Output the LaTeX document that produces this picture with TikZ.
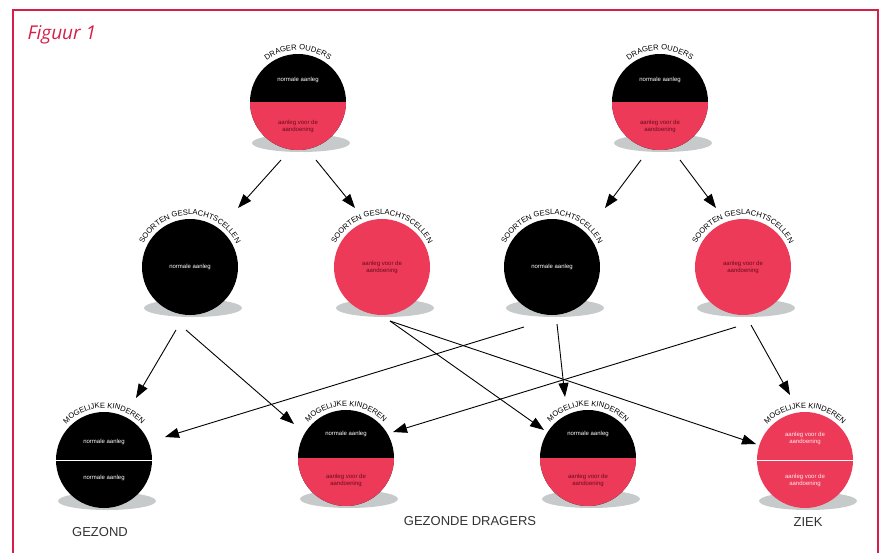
\documentclass[tikz,border=0pt]{standalone}
\usepackage{fontspec}
\setsansfont{Liberation Sans}
\newfontfamily\figfont{Open Sans}
\usetikzlibrary{positioning, arrows.meta, calc, decorations.text, backgrounds}

\definecolor{aanleg}{RGB}{236,58,88}
\definecolor{kader}{RGB}{214,30,72}
\definecolor{schaduw}{RGB}{198,202,202}
\definecolor{donkerrood}{RGB}{105,12,30}
\definecolor{tekstgrijs}{RGB}{50,50,50}

\newcommand{\boogfont}{\fontsize{7.6}{7.6}\selectfont\sffamily}
% curved caption above a circle: node, text, start angle, end angle
\newcommand{\boog}[4]{%
  \path[decorate, decoration={text along path, text align=center,
      text={|\boogfont|#2}}]
    ($(#1)+(#3:52pt)$) arc[start angle=#3, end angle=#4, radius=52pt];}

\begin{document}
\begin{tikzpicture}[
    x=1pt, y=1pt,
    arr/.style={-{Triangle[length=14pt,width=10pt]}, line width=0.9pt},
    cel/.style={circle, minimum size=96pt, inner sep=0pt, align=center,
        font=\fontsize{6}{7}\selectfont\sffamily},
    zwart/.style={cel, fill=black, text=white},
    rood/.style={cel, fill=aanleg, text=donkerrood},
    half/.style={cel, fill=black, path picture={
        \fill[aanleg] (path picture bounding box.west) rectangle (path picture bounding box.south east);}},
    deel/.style={path picture={
        \draw[white, line width=1pt] (path picture bounding box.west) -- (path picture bounding box.east);}},
    binnen/.style={align=center, inner sep=0pt, font=\fontsize{6}{7}\selectfont\sffamily},
    uitslag/.style={font=\fontsize{13}{13}\selectfont\sffamily, text=tekstgrijs}
]
    \useasboundingbox (0,0) rectangle (883,-552);

    % Frame
    \draw[kader, line width=2.4pt] (13,-560) -- (13,-10) -- (878,-10) -- (878,-560);
    \node[anchor=west, text=kader, font=\figfont\itshape\fontsize{19}{19}\selectfont] (titel) at (24,-35) {Figuur 1};

    % Parents
    \node[half] (p1) at (298,-102) {};
    \node[half] (p2) at (660,-102) {};

    % Gametes
    \node[zwart] (g1) at (190,-267) {normale aanleg};
    \node[rood] (g2) at (382,-267) {aanleg voor de\\aandoening};
    \node[zwart] (g3) at (552,-267) {normale aanleg};
    \node[rood] (g4) at (743,-267) {aanleg voor de\\aandoening};

    % Children
    \node[zwart, deel] (k1) at (104,-460) {};
    \node[half] (k2) at (346,-458) {};
    \node[half] (k3) at (588,-458) {};
    \node[rood, deel] (k4) at (805,-460) {};

    % Texts inside the split circles
    \node[binnen, white] (p1b) at ($(p1)+(0,22)$) {normale aanleg};
    \node[binnen, donkerrood] (p1o) at ($(p1)+(0,-24)$) {aanleg voor de\\aandoening};
    \node[binnen, white] (p2b) at ($(p2)+(0,22)$) {normale aanleg};
    \node[binnen, donkerrood] (p2o) at ($(p2)+(0,-24)$) {aanleg voor de\\aandoening};
    \node[binnen, white] (k1b) at ($(k1)+(0,18)$) {normale aanleg};
    \node[binnen, white] (k1o) at ($(k1)+(0,-18)$) {normale aanleg};
    \node[binnen, white] (k2b) at ($(k2)+(0,24)$) {normale aanleg};
    \node[binnen, donkerrood] (k2o) at ($(k2)+(0,-22)$) {aanleg voor de\\aandoening};
    \node[binnen, white] (k3b) at ($(k3)+(0,24)$) {normale aanleg};
    \node[binnen, donkerrood] (k3o) at ($(k3)+(0,-22)$) {aanleg voor de\\aandoening};
    \node[binnen, white!90!aanleg] (k4b) at ($(k4)+(0,22)$) {aanleg voor de\\aandoening};
    \node[binnen, white!90!aanleg] (k4o) at ($(k4)+(0,-20)$) {aanleg voor de\\aandoening};

    % Curved captions
    \boog{p1}{DRAGER OUDERS}{178}{2}
    \boog{p2}{DRAGER OUDERS}{178}{2}
    \boog{g1}{SOORTEN GESLACHTSCELLEN}{178}{2}
    \boog{g2}{SOORTEN GESLACHTSCELLEN}{178}{2}
    \boog{g3}{SOORTEN GESLACHTSCELLEN}{178}{2}
    \boog{g4}{SOORTEN GESLACHTSCELLEN}{178}{2}
    \boog{k1}{MOGELIJKE KINDEREN}{178}{2}
    \boog{k2}{MOGELIJKE KINDEREN}{178}{2}
    \boog{k3}{MOGELIJKE KINDEREN}{178}{2}
    \boog{k4}{MOGELIJKE KINDEREN}{178}{2}

    % Shadows
    \begin{scope}[on background layer]
        \foreach \n in {p1,p2,g1,g2,g3,g4,k1,k2,k3,k4}
            \fill[schaduw] ($(\n)+(3,-41)$) ellipse[x radius=49, y radius=9];
    \end{scope}

    % Parents -> gametes
    \draw[arr] ($(p1)+(-17,-58)$) -- ($(g1)+(48,59)$);
    \draw[arr] ($(p1)+(18,-58)$) -- ($(g2)+(-27,59)$);
    \draw[arr] ($(p2)+(-19,-58)$) -- ($(g3)+(53,59)$);
    \draw[arr] ($(p2)+(20,-58)$) -- ($(g4)+(-27,59)$);

    % Gametes -> children
    \draw[arr] ($(g1)+(-14,-63)$) -- ($(k1)+(32,62)$);
    \draw[arr] ($(g1)+(-4,-63)$) -- ($(k2)+(-52,34)$);
    \draw[arr] ($(g2)+(8,-54)$) -- ($(k3)+(-44,28)$);
    \draw[arr] ($(g2)+(8,-54)$) -- ($(k4)+(-49,16)$);
    \draw[arr] ($(g3)+(-28,-60)$) -- ($(k1)+(61,23)$);
    \draw[arr] ($(g3)+(5,-57)$) -- ($(k3)+(-23,61)$);
    \draw[arr] ($(g4)+(-7,-60)$) -- ($(k2)+(47,26)$);
    \draw[arr] ($(g4)+(8,-58)$) -- ($(k4)+(-15,65)$);

    % Outcomes
    \node[uitslag] (gezond) at (100,-532) {GEZOND};
    \node[uitslag] (dragers) at (470,-521) {GEZONDE DRAGERS};
    \node[uitslag] (ziek) at (808,-522) {ZIEK};
\end{tikzpicture}
\end{document}
